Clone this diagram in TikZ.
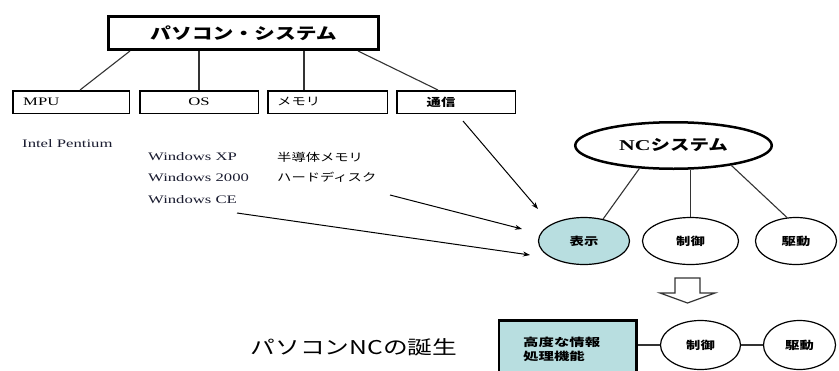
\documentclass[tikz,border=0pt]{standalone}
\usepackage{fontspec}
\setmainfont{Liberation Serif}[FakeStretch=1.45]
\newfontfamily\jp{Noto Sans CJK JP}[FakeStretch=1.3]
\newfontfamily\jpw{Noto Sans CJK JP}[FakeStretch=1.4]
\usetikzlibrary{shapes.geometric,arrows.meta,calc}
\definecolor{lcyan}{HTML}{B8DEE0}
\definecolor{navy}{HTML}{1A1C30}
\definecolor{ln}{HTML}{333333}
\begin{document}
\begin{tikzpicture}[x=1pt,y=-1pt,
  box/.style={draw=black,line width=1.5pt,minimum height=22.5pt,inner sep=0pt},
  conn/.style={draw=ln,line width=1.1pt},
  arr/.style={draw=black,line width=1pt,-{Stealth[length=7pt,width=5pt]}},
  ell/.style={ellipse,draw=black,line width=1.2pt,inner sep=0pt,minimum height=47pt},
  lat/.style={font=\fontsize{11.5}{13}\selectfont,text=navy,anchor=west,inner sep=0pt},
  jpt/.style={font=\jp\fontsize{11}{13}\selectfont,anchor=west,inner sep=0pt},
  lbl/.style={font=\jp\bfseries\fontsize{11}{13}\selectfont,inner sep=0pt}]
\useasboundingbox (0,0) rectangle (839,370);
\fill[white] (0,0) rectangle (839,370);

% top system box
\node[draw=black,line width=3pt,minimum width=270pt,minimum height=33pt,inner sep=0pt,
      font=\jp\bfseries\fontsize{16}{18}\selectfont] (top) at (243.5,33) {パソコン・システム};

% component boxes
\node[box,minimum width=116.5pt] (mpu) at (71,102) {};
\node[box,minimum width=118.5pt] (os)  at (199,102) {};
\node[box,minimum width=119.5pt] (mem) at (327.5,102) {};
\node[box,minimum width=118.5pt] (tsu) at (456,102) {};
\node[lat,text=black] (mputxt) at (23,102) {MPU};
\node[lat,text=black,anchor=center] (ostxt) at (199,102) {OS};
\node[jpt] (memtxt) at (277,102) {メモリ};
\node[lbl] (tsutxt) at (441,102) {通信};

% connectors from top box
\draw[conn] ([xshift=23pt]top.south west) -- ([xshift=68pt]mpu.north west);
\draw[conn] (os.north) -- (os.north |- top.south);
\draw[conn] ([xshift=37pt]mem.north west) -- ([xshift=37pt]mem.north west |- top.south);
\draw[conn] ([xshift=-22pt]top.south east) -- ([xshift=42pt]tsu.north west);

% lists
\node[lat] (intel) at (22,144) {Intel Pentium};
\node[lat] (wxp)   at (148,157) {Windows XP};
\node[lat] (w2k)   at (148,178) {Windows 2000};
\node[lat] (wce)   at (148,200) {Windows CE};
\node[jpt] (semi)  at (277,157) {半導体メモリ};
\node[jpt] (hdd)   at (277,177) {ハードディスク};

% NC system
\node[ell,line width=2.5pt,minimum width=196.5pt,minimum height=46.5pt,
      font=\bfseries\fontsize{15}{17}\selectfont] (nc) at (673.5,145.5) {NC{\jp\bfseries システム}};
\node[ell,fill=lcyan,minimum width=91pt,lbl] (hyo) at (584,241) {表示};
\node[ell,minimum width=96pt,lbl] (sei) at (690.5,241) {制御};
\node[ell,minimum width=81pt,lbl] (ku)  at (796,241) {駆動};
\draw[conn] (nc.214) -- (hyo.49);
\draw[conn] (sei.north) -- (sei.north |- nc.south);
\draw[conn] (nc.341) -- (ku.111);

% arrows
\coordinate (a1s) at (463,121); \coordinate (a1e) at (538,209);
\coordinate (a2s) at (390,195); \coordinate (a2e) at (522,229);
\coordinate (a3s) at (237,213); \coordinate (a3e) at (530,255);
\draw[arr] (a1s) -- (a1e);
\draw[arr] (a2s) -- (a2e);
\draw[arr] (a3s) -- (a3e);

% down block arrow
\draw[line width=1.2pt,draw=ln,fill=white,line join=miter]
  (675,278) -- (700,278) -- (700,293) -- (715,293) -- (687.5,303) -- (660,293) -- (675,293) -- cycle;

% bottom row
\node[draw=black,line width=2.5pt,fill=lcyan,minimum width=137.5pt,minimum height=70pt,inner sep=0pt] (hi) at (567.5,355.25) {};
\node[anchor=north west,align=left,inner sep=0pt,font=\jpw\bfseries\fontsize{11}{13.5}\selectfont] (hitxt) at (523,337) {高度な情報\\処理機能};
\node[ell,minimum width=80pt,minimum height=49pt,lbl] (sei2) at (700.5,345) {制御};
\node[ell,minimum width=72pt,minimum height=49pt,lbl] (ku2) at (799.5,345) {駆動};
\draw[conn] (hi.east |- sei2.west) -- (sei2.west);
\draw[conn] (sei2.east) -- (ku2.west);

\node[font=\jp\fontsize{19}{21}\selectfont,inner sep=0pt] (birth) at (354,347) {パソコンNCの誕生};
\end{tikzpicture}
\end{document}
